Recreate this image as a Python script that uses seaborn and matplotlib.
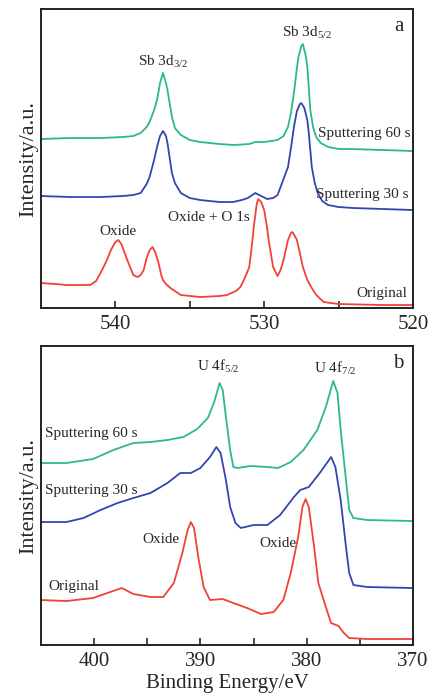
import numpy as np
import matplotlib
matplotlib.use("Agg")
import matplotlib.pyplot as plt
import seaborn as sns

# ---- panel a: Sb 3d ----
a_e_60 = [545.0, 543.0, 541.0, 539.5, 538.8, 538.3, 537.9, 537.7, 537.4, 537.2, 537.0, 536.8,
          536.6, 536.5, 536.3, 536.2, 536.0, 535.6, 535.0, 534.3, 533.0, 532.0, 531.0, 530.6,
          530.0, 529.1, 528.7, 528.4, 528.2, 528.0, 527.8, 527.7, 527.5, 527.4, 527.2, 527.1,
          527.0, 526.9, 526.7, 526.5, 526.2, 525.7, 525.0, 524.2, 522.0, 520.0]
a_i_60 = [169, 170, 170, 171, 172, 175, 181, 186, 198, 208, 225, 235,
          225, 218, 200, 191, 180, 173, 168, 166, 164, 163, 164, 166,
          166, 168, 172, 181, 195, 215, 240, 251, 262, 264, 252, 241,
          220, 198, 180, 171, 165, 161, 159, 159, 158, 157]

a_e_30 = [545.0, 543.0, 541.0, 539.5, 538.8, 538.3, 537.9, 537.7, 537.4, 537.2, 537.0, 536.8,
          536.6, 536.5, 536.3, 536.2, 536.0, 535.6, 535.0, 534.3, 533.0, 532.1, 531.5, 531.1,
          530.6, 530.2, 529.8, 529.4, 529.1, 528.8, 528.4, 528.2, 528.0, 527.8, 527.6, 527.5,
          527.3, 527.1, 527.0, 526.8, 526.6, 526.4, 526.1, 525.7, 525.0, 524.0, 522.0, 520.0]
a_i_30 = [112, 111, 111, 112, 113, 115, 124, 131, 148, 161, 172, 177,
          172, 165, 145, 135, 125, 115, 110, 108, 106, 106, 108, 110,
          115, 112, 109, 110, 113, 125, 141, 160, 181, 197, 204, 205,
          200, 188, 175, 141, 125, 115, 107, 103, 101, 100, 99, 98]

a_e_org = [545.0, 544.0, 543.3, 542.3, 541.7, 541.3, 541.0, 540.6, 540.3, 540.0, 539.8, 539.6,
           539.2, 538.8, 538.5, 538.3, 538.1, 537.9, 537.7, 537.5, 537.3, 537.1, 536.9, 536.8,
           536.6, 536.3, 535.6, 534.3, 533.0, 532.5, 531.9, 531.6, 531.3, 531.0, 530.8, 530.7,
           530.5, 530.4, 530.2, 530.0, 529.8, 529.7, 529.4, 529.1, 528.9, 528.7, 528.4, 528.2,
           528.1, 527.9, 527.8, 527.6, 527.4, 527.1, 526.8, 526.5, 526.0, 525.0, 522.0, 520.0]
a_i_org = [25, 24, 23, 23, 23, 27, 35, 47, 58, 66, 68, 64,
           48, 33, 31, 33, 38, 50, 58, 61, 55, 45, 32, 28,
           24, 20, 13, 11, 12, 13, 17, 21, 30, 41, 66, 81,
           104, 109, 106, 98, 80, 68, 41, 32, 38, 48, 68, 75,
           76, 71, 68, 55, 41, 28, 20, 13, 6, 4, 3, 3]

# ---- panel b: U 4f ----
b_e_60 = [405.0, 402.6, 400.1, 398.2, 396.3, 394.7, 393.1, 391.6, 390.3, 389.3, 388.7, 388.2,
          387.9, 387.6, 387.2, 386.9, 386.5, 385.3, 383.7, 382.7, 381.5, 380.3, 379.0, 378.2,
          377.5, 377.1, 376.8, 376.3, 376.0, 375.6, 374.3, 370.0]
b_i_60 = [182, 182, 186, 195, 202, 203, 205, 208, 216, 227, 243, 262,
          255, 228, 195, 178, 177, 179, 178, 177, 183, 195, 215, 238,
          264, 252, 215, 165, 135, 127, 125, 124]

b_e_30 = [405.0, 402.6, 401.0, 399.4, 397.8, 396.3, 394.7, 393.1, 391.9, 390.9, 390.0, 389.1,
          388.5, 388.1, 387.6, 387.2, 386.7, 386.2, 385.0, 383.7, 382.5, 381.2, 380.6, 379.8,
          378.7, 377.7, 377.3, 376.8, 376.3, 376.0, 375.6, 374.3, 370.0]
b_i_30 = [123, 123, 127, 135, 142, 147, 152, 162, 172, 172, 177, 188,
          198, 192, 165, 138, 122, 117, 120, 120, 130, 148, 155, 158,
          173, 188, 178, 145, 98, 72, 60, 58, 57]

b_e_org = [405.0, 402.6, 400.1, 398.5, 397.4, 396.3, 394.7, 393.5, 392.5, 391.7, 391.2, 390.9,
           390.6, 390.2, 389.7, 389.1, 387.9, 386.9, 385.6, 384.3, 383.1, 382.2, 381.5, 380.8,
           380.4, 380.1, 379.8, 379.3, 378.9, 378.2, 377.7, 377.0, 376.5, 376.0, 374.3, 370.0]
b_i_org = [45, 44, 47, 53, 57, 51, 48, 48, 62, 92, 115, 123,
           117, 88, 58, 45, 46, 42, 37, 31, 33, 45, 72, 108,
           138, 146, 138, 98, 62, 38, 22, 19, 12, 7, 6, 6]

green = "#2cba88"
blue = "#3346b0"
red = "#f0413a"

sns.set_style("ticks")
plt.rcParams["font.family"] = ["Liberation Serif", "DejaVu Serif"]
plt.rcParams["mathtext.fontset"] = "custom"
plt.rcParams["mathtext.rm"] = "Liberation Serif"

fig = plt.figure(figsize=(4.33, 6.98), dpi=100)
ax1 = fig.add_axes([0.0947, 0.5587, 0.859, 0.4284])
ax2 = fig.add_axes([0.0947, 0.0759, 0.859, 0.4284])

for ax, curves in [(ax1, [(a_e_org, a_i_org, red), (a_e_30, a_i_30, blue), (a_e_60, a_i_60, green)]),
                   (ax2, [(b_e_org, b_i_org, red), (b_e_30, b_i_30, blue), (b_e_60, b_i_60, green)])]:
    for e, i, c in curves:
        sns.lineplot(x=e, y=i, color=c, linewidth=1.3, estimator=None, ax=ax)
    ax.set_ylim(0, 299)
    ax.set_yticks([])
    ax.set_ylabel("Intensity/a.u.", fontsize=16, labelpad=2)
    ax.tick_params(axis="x", direction="in", length=5, width=1.2, labelsize=15, pad=5)
    ax.tick_params(axis="x", which="minor", direction="in", length=5, width=1.2)
    for s in ax.spines.values():
        s.set_linewidth(1.4)
        s.set_color("#222222")

ax1.set_xlim(545, 520)
ax1.set_xticks([540, 530, 520])
ax1.set_xticks([535, 525], minor=True)
ax2.set_xlim(405, 370)
ax2.set_xticks([400, 390, 380, 370])
ax2.set_xticks([395, 385, 375], minor=True)
ax2.set_xlabel("Binding Energy/eV", fontsize=15, labelpad=2)

fs = 11
# panel a labels
ax1.text(0.975, 0.94, "a", transform=ax1.transAxes, fontsize=15, ha="right", va="center")
ax1.text(536.8, 246, r"Sb 3d$_{\mathregular{3/2}}$", fontsize=fs, ha="center", va="center")
ax1.text(527.1, 275, r"Sb 3d$_{\mathregular{5/2}}$", fontsize=fs, ha="center", va="center")
ax1.text(0.993, 0.585, "Sputtering 60 s", transform=ax1.transAxes, fontsize=fs, ha="right", va="center")
ax1.text(0.988, 0.378, "Sputtering 30 s", transform=ax1.transAxes, fontsize=fs, ha="right", va="center")
ax1.text(0.985, 0.05, "Original", transform=ax1.transAxes, fontsize=fs, ha="right", va="center")
ax1.text(533.7, 91, "Oxide + O 1s", fontsize=fs, ha="center", va="center")
ax1.text(539.8, 77, "Oxide", fontsize=fs, ha="center", va="center")

# panel b labels
ax2.text(0.975, 0.94, "b", transform=ax2.transAxes, fontsize=15, ha="right", va="center")
ax2.text(388.3, 279, r"U 4f$_{\mathregular{5/2}}$", fontsize=fs, ha="center", va="center")
ax2.text(377.3, 277, r"U 4f$_{\mathregular{7/2}}$", fontsize=fs, ha="center", va="center")
ax2.text(0.011, 0.709, "Sputtering 60 s", transform=ax2.transAxes, fontsize=fs, ha="left", va="center")
ax2.text(0.011, 0.516, "Sputtering 30 s", transform=ax2.transAxes, fontsize=fs, ha="left", va="center")
ax2.text(0.019, 0.195, "Original", transform=ax2.transAxes, fontsize=fs, ha="left", va="center")
ax2.text(393.7, 106, "Oxide", fontsize=fs, ha="center", va="center")
ax2.text(382.7, 102, "Oxide", fontsize=fs, ha="center", va="center")

fig.savefig("out.png", dpi=100)
